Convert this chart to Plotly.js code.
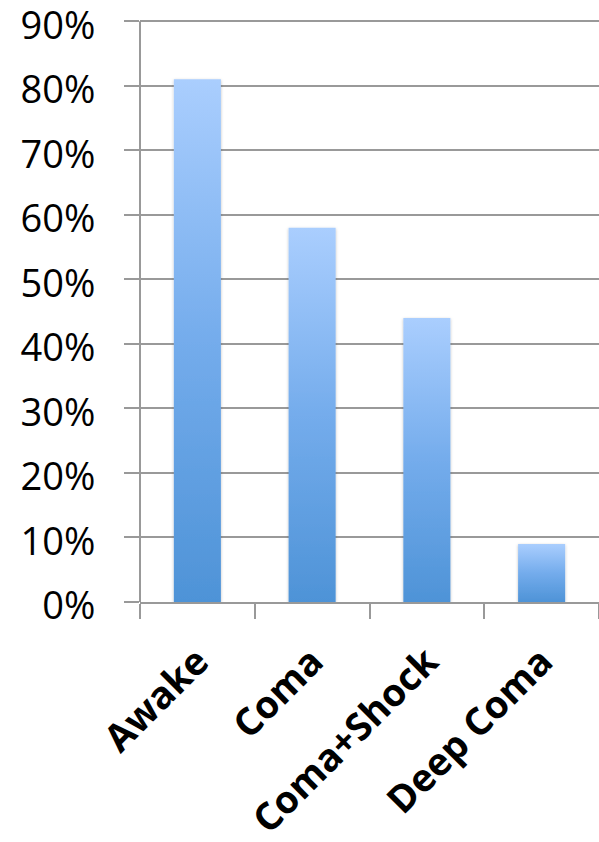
<!DOCTYPE html>
<html>
<head>
<meta charset="utf-8">
<script src="https://cdn.plot.ly/plotly-3.0.1.min.js"></script>
<style>
  html, body { margin: 0; padding: 0; background: #ffffff; }
  #chart { width: 599px; height: 842px; }
</style>
</head>
<body>
<div id="chart"></div>
<script>
// Share of patients by clinical state
const categories = ['Awake', 'Coma', 'Coma+Shock', 'Deep Coma'];
const shares = [0.81, 0.58, 0.44, 0.09];
const yTickValues = [0, 0.1, 0.2, 0.3, 0.4, 0.5, 0.6, 0.7, 0.8, 0.9];
const yTickLabels = ['0%', '10%', '20%', '30%', '40%', '50%', '60%', '70%', '80%', '90%'];
const yTop = 0.9;

const axisGray = '#999999';

const trace = {
  type: 'bar',
  x: categories,
  y: shares,
  width: 0.41,
  marker: { color: '#6aa6e4', line: { width: 0 } },
  hoverinfo: 'skip'
};

const layout = {
  width: 599,
  height: 842,
  margin: { l: 140, r: 0, t: 18, b: 240, pad: 0 },
  paper_bgcolor: '#ffffff',
  plot_bgcolor: '#ffffff',
  showlegend: false,
  xaxis: {
    type: 'category',
    tickson: 'boundaries',
    ticks: 'outside',
    ticklen: 15,
    tickwidth: 2,
    tickcolor: axisGray,
    showline: true,
    linecolor: axisGray,
    linewidth: 2,
    showgrid: false,
    tickangle: -45,
    ticklabelstandoff: 20,
    tickfont: { family: 'Open Sans, Noto Sans, sans-serif', size: 38, color: '#000000', weight: 'bold' },
    fixedrange: true
  },
  yaxis: {
    // a little headroom above 90% so its tick, label and gridline are kept
    range: [0, 0.905],
    tickvals: yTickValues,
    ticktext: yTickLabels,
    ticks: 'outside',
    ticklen: 15,
    tickwidth: 2,
    tickcolor: axisGray,
    showline: false,
    showgrid: true,
    gridcolor: axisGray,
    gridwidth: 2,
    zeroline: false,
    ticklabelstandoff: 21,
    ticklabelshift: 4,
    ticklabeloverflow: 'allow',
    tickfont: { family: 'Open Sans, Noto Sans, sans-serif', size: 38, color: '#000000' },
    fixedrange: true
  },
  shapes: [{
    // vertical axis line, from 0% up to the top gridline
    type: 'line', xref: 'paper', yref: 'y',
    x0: 0, x1: 0, y0: 0, y1: yTop,
    line: { color: axisGray, width: 2 }
  }]
};

Plotly.newPlot('chart', [trace], layout, { staticPlot: true, displayModeBar: false }).then(function (gd) {
  // Vertical light-to-deep blue fill for each bar, plus a soft edge shadow
  const svgNS = 'http://www.w3.org/2000/svg';
  const svg = gd.querySelector('svg.main-svg');
  let defs = svg.querySelector('defs');
  if (!defs) { defs = document.createElementNS(svgNS, 'defs'); svg.insertBefore(defs, svg.firstChild); }

  const grad = document.createElementNS(svgNS, 'linearGradient');
  grad.setAttribute('id', 'barFill');
  grad.setAttribute('x1', '0'); grad.setAttribute('y1', '0');
  grad.setAttribute('x2', '0'); grad.setAttribute('y2', '1');
  [['0%', '#aacefe'], ['50%', '#74acec'], ['100%', '#4e93d7']].forEach(function (s) {
    const stop = document.createElementNS(svgNS, 'stop');
    stop.setAttribute('offset', s[0]);
    stop.setAttribute('stop-color', s[1]);
    grad.appendChild(stop);
  });
  defs.appendChild(grad);

  const filt = document.createElementNS(svgNS, 'filter');
  filt.setAttribute('id', 'barShadow');
  filt.setAttribute('x', '-20%'); filt.setAttribute('y', '-5%');
  filt.setAttribute('width', '140%'); filt.setAttribute('height', '110%');
  const sh = document.createElementNS(svgNS, 'feDropShadow');
  sh.setAttribute('dx', '0'); sh.setAttribute('dy', '1');
  sh.setAttribute('stdDeviation', '1.6');
  sh.setAttribute('flood-color', '#000000');
  sh.setAttribute('flood-opacity', '0.25');
  filt.appendChild(sh);
  defs.appendChild(filt);

  gd.querySelectorAll('.barlayer .point path').forEach(function (p) {
    p.style.fill = 'url(#barFill)';
    p.style.fillOpacity = '1';
    p.setAttribute('filter', 'url(#barShadow)');
  });
});
</script>
</body>
</html>
